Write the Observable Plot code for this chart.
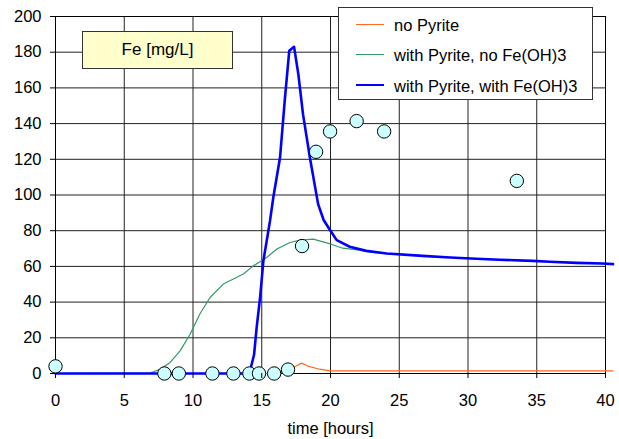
<!DOCTYPE html>
<html>
<head>
<meta charset="utf-8">
<script src="https://cdn.jsdelivr.net/npm/d3@7"></script>
<script src="https://cdn.jsdelivr.net/npm/@observablehq/plot@0.6"></script>
<style>
  body { margin: 0; background: #fff; }
  #wrap { position: relative; width: 619px; height: 439px; font-family: "Liberation Sans", Arial, sans-serif; color: #000; }
  #wrap svg { display: block; }
  .title-box { position: absolute; left: 82px; top: 31px; width: 151px; height: 38px; box-sizing: border-box;
    background: #ffffcc; border: 1.5px solid #333; font-size: 17px; display: flex; align-items: center; justify-content: center; }
  .legend { position: absolute; left: 338px; top: 7px; width: 255px; height: 93px; box-sizing: border-box;
    background: #fff; border: 1px solid #333; }
  .legend .row { position: absolute; left: 0; height: 0; }
  .legend .swatch { position: absolute; left: 17px; width: 28px; }
  .legend .lab { position: absolute; left: 55px; white-space: nowrap; font-size: 16.5px; line-height: 20px; top: -10px; }
</style>
</head>
<body>
<div id="wrap"></div>
<script>
// ---- Data ----
const seriesNames = ["no Pyrite", "with Pyrite, no Fe(OH)3", "with Pyrite, with Fe(OH)3"];
const seriesColors = ["#ff6a1a", "#339966", "#0000ff"];
const seriesWidths = [1.2, 1.2, 2.6];

const noPyriteTime = [0, 16.0, 16.5, 17.0, 17.5, 17.9, 18.3, 19.2, 20.0, 40.55];
const noPyriteFe   = [0, 0, 0.8, 2.5, 4.2, 5.8, 4.3, 2.4, 1.5, 1.5];

const pyriteNoFeOHTime = [0, 6.88, 7.6, 8.34, 9.06, 9.79, 10.5, 11.24, 12.2, 12.94, 13.66, 14.39, 15.36, 16.1, 17.06, 17.79, 18.75, 19.2, 20.1, 20.9, 22.1, 23.1, 24.1, 26.7, 28.7, 30.6, 32.3, 34.7, 35.95, 37.9, 39.8, 40.55];
const pyriteNoFeOHFe   = [0, 0.2, 2.4, 6.2, 12.7, 22, 33.3, 42.6, 50.1, 52.9, 55.7, 60.3, 65, 69.7, 73.4, 74.7, 75.3, 74.3, 72.3, 70.2, 69.1, 67.8, 67.2, 65.9, 65, 64.3, 63.7, 63.1, 62.6, 62, 61.6, 61.3];

const pyriteFeOHTime = [0, 14.1, 14.44, 14.63, 14.88, 15.12, 15.36, 15.6, 15.84, 16.33, 16.69, 17.0, 17.35, 17.66, 18.0, 18.5, 19.1, 19.5, 20.0, 20.45, 21.4, 22.6, 24.1, 26.7, 28.7, 30.6, 32.3, 34.7, 35.95, 37.9, 39.8, 40.55];
const pyriteFeOHFe   = [0, 0, 10.5, 25.8, 42.6, 63.2, 74.3, 85.5, 98.6, 121, 154.6, 180.8, 183, 167.7, 145.3, 121, 94.9, 86, 80, 74.7, 71, 68.7, 67.2, 65.9, 65, 64.3, 63.7, 63.1, 62.6, 62, 61.6, 61.3];

const measuredTime = [0, 7.92, 8.97, 11.41, 12.94, 14.1, 14.8, 15.9, 16.91, 17.93, 18.95, 19.97, 21.9, 23.9, 33.55];
const measuredFe   = [4, 0, 0, 0, 0, 0, 0, 0, 2.2, 71.4, 124.2, 135.6, 141.4, 135.6, 107.9];

const xTicks = [0, 5, 10, 15, 20, 25, 30, 35, 40];
const yTicks = [0, 20, 40, 60, 80, 100, 120, 140, 160, 180, 200];
const xLabel = "time [hours]";
const yTitle = "Fe [mg/L]";

// ---- Tables ----
const lineData = [
  ...noPyriteTime.map((t, i) => ({t, fe: noPyriteFe[i], s: seriesNames[0]})),
  ...pyriteNoFeOHTime.map((t, i) => ({t, fe: pyriteNoFeOHFe[i], s: seriesNames[1]})),
  ...pyriteFeOHTime.map((t, i) => ({t, fe: pyriteFeOHFe[i], s: seriesNames[2]}))
];
const measured = measuredTime.map((t, i) => ({t, fe: measuredFe[i]}));

const font = '"Liberation Sans", Arial, sans-serif';

const chart = Plot.plot({
  width: 619,
  height: 439,
  marginLeft: 55,
  marginRight: 14,
  marginTop: 16,
  marginBottom: 66,
  style: { fontFamily: font, fontSize: "16.5px", color: "#000", background: "#fff", overflow: "visible" },
  x: { domain: [0, 40] },
  y: { domain: [0, 200] },
  marks: [
    Plot.gridX(xTicks, { stroke: "#222", strokeOpacity: 1, strokeWidth: 1 }),
    Plot.gridY(yTicks, { stroke: "#222", strokeOpacity: 1, strokeWidth: 1 }),
    Plot.frame({ stroke: "#000", strokeWidth: 1 }),
    ...seriesNames.map((name, i) =>
      Plot.line(lineData.filter(d => d.s === name), {
        x: "t", y: "fe", stroke: seriesColors[i], strokeWidth: seriesWidths[i], strokeLinejoin: "round"
      })
    ),
    Plot.dot(measured, { x: "t", y: "fe", r: 6.7, fill: "#ccffff", stroke: "#000", strokeWidth: 1 }),
    Plot.axisX(xTicks, { tickSize: 5, tickPadding: 16, stroke: "#000", label: xLabel, labelAnchor: "center", labelOffset: 60, labelArrow: "none", fontSize: 16.5 }),
    Plot.axisY(yTicks, { tickSize: 5, tickPadding: 9, stroke: "#000", label: null, fontSize: 16.5 })
  ]
});

const wrap = document.getElementById("wrap");
wrap.appendChild(chart);

// Title box
const tb = document.createElement("div");
tb.className = "title-box";
tb.textContent = yTitle;
wrap.appendChild(tb);

// Legend
const lg = document.createElement("div");
lg.className = "legend";
const rowTops = [16.5, 46.5, 77.5];
seriesNames.forEach((name, i) => {
  const row = document.createElement("div");
  row.className = "row";
  row.style.top = rowTops[i] + "px";
  const sw = document.createElement("div");
  sw.className = "swatch";
  sw.style.borderTop = `${seriesWidths[i]}px solid ${seriesColors[i]}`;
  sw.style.top = (-seriesWidths[i] / 2) + "px";
  const lab = document.createElement("div");
  lab.className = "lab";
  lab.textContent = name;
  row.appendChild(sw);
  row.appendChild(lab);
  lg.appendChild(row);
});
wrap.appendChild(lg);
</script>
</body>
</html>
